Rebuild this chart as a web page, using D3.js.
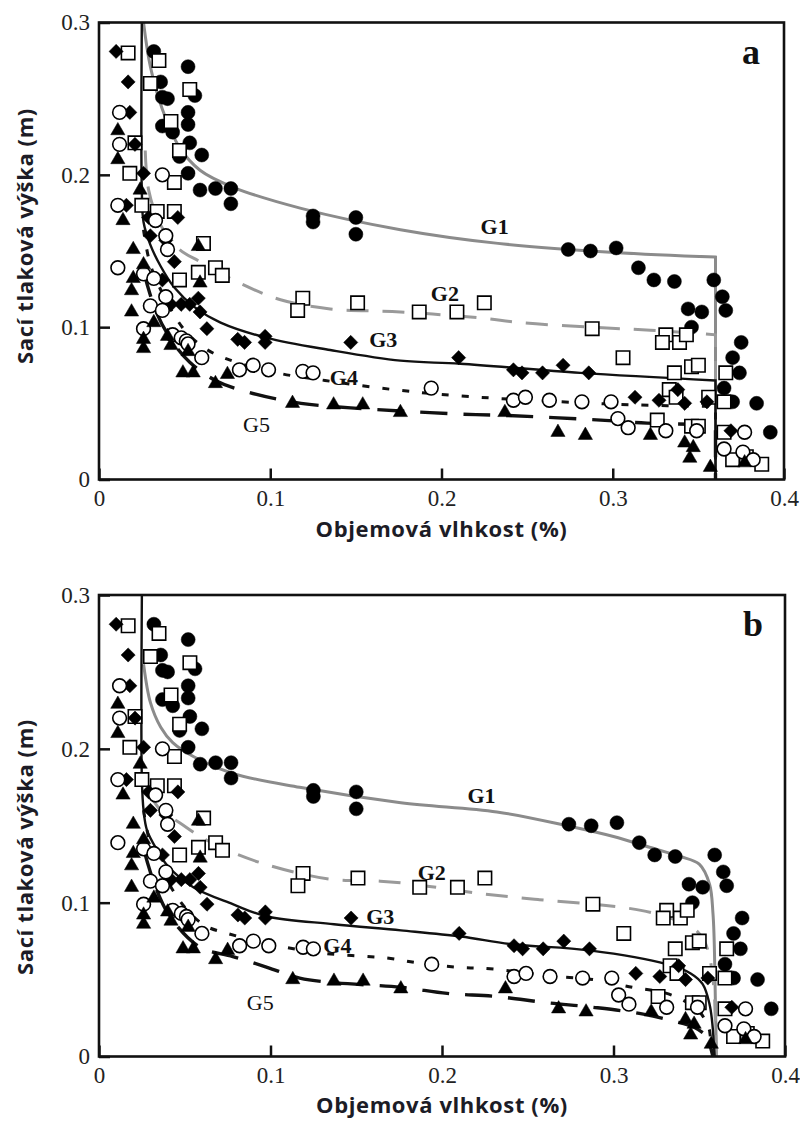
<!DOCTYPE html>
<html>
<head>
<meta charset="utf-8">
<script src="https://cdn.jsdelivr.net/npm/d3@7"></script>
<style>
  body { margin: 0; background: #fff; }
  svg { display: block; }
  .tick text { font-family: "Liberation Serif", "Times New Roman", serif; font-size: 23px; fill: #222; }
  .axis-title { font-family: "Open Sans", sans-serif; font-weight: 700; font-size: 22px; letter-spacing: 0.6px; fill: #1c1c26; }
  .curve-label { font-family: "Liberation Serif", serif; font-weight: 700; font-size: 22px; fill: #111; }
  .panel-letter { font-family: "Liberation Serif", serif; font-weight: 700; font-size: 36px; fill: #111; }
</style>
</head>
<body>
<svg width="800" height="1122"></svg>
<script>
// measured points [volumetric moisture, suction head]
const g1Points = [[0.032,0.281],[0.052,0.271],[0.036,0.261],[0.037,0.251],[0.040,0.250],[0.056,0.252],
  [0.052,0.241],[0.052,0.233],[0.037,0.232],[0.043,0.228],[0.053,0.221],[0.047,0.212],[0.060,0.213],
  [0.052,0.201],[0.059,0.190],[0.068,0.191],[0.077,0.191],[0.077,0.181],[0.125,0.173],[0.125,0.169],
  [0.150,0.172],[0.150,0.161],[0.274,0.151],[0.287,0.150],[0.302,0.152],[0.315,0.139],[0.324,0.131],
  [0.336,0.130],[0.359,0.131],[0.364,0.120],[0.366,0.111],[0.344,0.112],[0.352,0.110],[0.346,0.100],
  [0.375,0.090],[0.370,0.080],[0.374,0.070],[0.365,0.060],[0.370,0.051],[0.384,0.050],[0.392,0.031]];
const g2Points = [[0.017,0.280],[0.035,0.275],[0.030,0.260],[0.053,0.256],[0.042,0.235],[0.021,0.221],
  [0.047,0.216],[0.018,0.201],[0.044,0.195],[0.025,0.180],[0.034,0.176],[0.044,0.176],[0.061,0.155],
  [0.058,0.136],[0.068,0.139],[0.072,0.134],[0.047,0.131],[0.119,0.119],[0.116,0.111],[0.151,0.116],
  [0.187,0.110],[0.209,0.110],[0.225,0.116],[0.288,0.099],[0.331,0.095],[0.329,0.090],[0.339,0.090],
  [0.343,0.095],[0.306,0.080],[0.336,0.070],[0.346,0.074],[0.350,0.075],[0.366,0.070],[0.333,0.059],
  [0.337,0.054],[0.356,0.054],[0.365,0.051],[0.326,0.039],[0.346,0.035],[0.350,0.035],[0.365,0.031],
  [0.370,0.013],[0.378,0.015],[0.387,0.010]];
const g3Points = [[0.010,0.281],[0.017,0.261],[0.018,0.241],[0.021,0.220],[0.026,0.201],[0.016,0.180],
  [0.029,0.172],[0.046,0.172],[0.030,0.160],[0.039,0.157],[0.044,0.143],[0.037,0.131],[0.042,0.115],
  [0.048,0.115],[0.053,0.115],[0.058,0.119],[0.059,0.110],[0.063,0.099],[0.081,0.092],[0.085,0.090],
  [0.097,0.094],[0.097,0.090],[0.147,0.090],[0.210,0.080],[0.242,0.072],[0.247,0.070],[0.259,0.070],
  [0.271,0.075],[0.286,0.070],[0.313,0.054],[0.327,0.052],[0.338,0.059],[0.342,0.050],[0.355,0.051],
  [0.369,0.032]];
const g4Points = [[0.012,0.241],[0.012,0.220],[0.011,0.180],[0.037,0.200],[0.033,0.170],[0.039,0.160],
  [0.040,0.151],[0.011,0.139],[0.026,0.135],[0.032,0.132],[0.039,0.120],[0.030,0.114],[0.037,0.111],
  [0.026,0.099],[0.043,0.095],[0.048,0.093],[0.051,0.091],[0.052,0.089],[0.060,0.080],[0.082,0.072],
  [0.090,0.075],[0.099,0.072],[0.119,0.071],[0.125,0.070],[0.194,0.060],[0.242,0.052],[0.249,0.054],
  [0.263,0.052],[0.282,0.051],[0.299,0.051],[0.303,0.040],[0.309,0.034],[0.331,0.032],[0.349,0.032],
  [0.377,0.031],[0.365,0.020],[0.376,0.018],[0.382,0.013]];
const g5Points = [[0.011,0.229],[0.011,0.210],[0.024,0.190],[0.014,0.170],[0.020,0.151],[0.026,0.141],
  [0.020,0.132],[0.019,0.124],[0.019,0.110],[0.032,0.103],[0.026,0.092],[0.026,0.086],[0.040,0.094],
  [0.042,0.088],[0.052,0.084],[0.049,0.070],[0.055,0.070],[0.068,0.063],[0.075,0.069],[0.113,0.050],
  [0.137,0.049],[0.154,0.049],[0.176,0.044],[0.237,0.044],[0.268,0.031],[0.284,0.029],[0.322,0.029],
  [0.342,0.024],[0.347,0.021],[0.345,0.014],[0.357,0.008],[0.377,0.011],[0.058,0.153],[0.059,0.129]];

// fitted retention curves, panel a
const fitA1 = [[0.026,0.300],[0.030,0.271],[0.037,0.243],[0.047,0.218],[0.059,0.203],[0.078,0.192],
  [0.118,0.178],[0.176,0.164],[0.233,0.155],[0.301,0.149],[0.360,0.146],[0.360,0]];
const fitA2 = [[0.027,0.216],[0.029,0.190],[0.036,0.167],[0.047,0.151],[0.059,0.143],[0.082,0.129],
  [0.106,0.118],[0.135,0.112],[0.176,0.110],[0.223,0.106],[0.246,0.103],[0.287,0.100],[0.322,0.098],
  [0.360,0.095],[0.360,0]];
const fitA3 = [[0.025,0.300],[0.025,0.190],[0.026,0.169],[0.030,0.154],[0.036,0.140],[0.044,0.126],
  [0.056,0.113],[0.071,0.103],[0.098,0.093],[0.135,0.085],[0.176,0.078],[0.211,0.076],[0.281,0.070],
  [0.360,0.065],[0.360,0]];
const fitA4 = [[0.026,0.164],[0.030,0.141],[0.039,0.118],[0.050,0.098],[0.062,0.086],[0.075,0.079],
  [0.104,0.070],[0.132,0.065],[0.172,0.059],[0.209,0.055],[0.270,0.051],[0.312,0.049],[0.360,0.048],
  [0.360,0]];
const fitA5 = [[0.026,0.137],[0.033,0.111],[0.042,0.092],[0.053,0.077],[0.068,0.065],[0.088,0.057],
  [0.118,0.050],[0.147,0.047],[0.176,0.045],[0.209,0.043],[0.239,0.042],[0.293,0.039],[0.320,0.037],
  [0.360,0.036],[0.360,0]];

// fitted retention curves, panel b
const fitB1 = [[0.026,0.255],[0.030,0.230],[0.036,0.214],[0.043,0.204],[0.055,0.195],[0.078,0.184],
  [0.117,0.175],[0.176,0.165],[0.232,0.159],[0.273,0.150],[0.300,0.143],[0.321,0.136],[0.339,0.130],
  [0.350,0.125],[0.356,0.112],[0.358,0.093],[0.359,0.061],[0.360,0]];
const fitB2 = [[0.030,0.170],[0.036,0.160],[0.047,0.152],[0.059,0.143],[0.075,0.134],[0.094,0.126],
  [0.117,0.119],[0.137,0.115],[0.164,0.114],[0.183,0.112],[0.222,0.106],[0.256,0.102],[0.288,0.099],
  [0.316,0.095],[0.333,0.090],[0.346,0.084],[0.353,0.075],[0.357,0.059],[0.359,0.037],[0.360,0]];
const fitB3 = [[0.025,0.300],[0.025,0.180],[0.026,0.160],[0.028,0.147],[0.034,0.134],[0.040,0.124],
  [0.055,0.110],[0.078,0.099],[0.098,0.091],[0.137,0.086],[0.176,0.082],[0.211,0.078],[0.241,0.073],
  [0.286,0.069],[0.331,0.060],[0.345,0.054],[0.352,0.047],[0.356,0.034],[0.358,0.017],[0.359,0]];
const fitB4 = [[0.026,0.160],[0.030,0.138],[0.039,0.116],[0.050,0.097],[0.062,0.085],[0.075,0.080],
  [0.104,0.072],[0.132,0.067],[0.168,0.064],[0.185,0.061],[0.209,0.058],[0.228,0.057],[0.267,0.052],
  [0.288,0.050],[0.311,0.045],[0.331,0.041],[0.343,0.035],[0.351,0.028],[0.356,0.017],[0.358,0]];
const fitB5 = [[0.026,0.135],[0.033,0.110],[0.042,0.090],[0.059,0.071],[0.078,0.065],[0.098,0.058],
  [0.117,0.051],[0.137,0.048],[0.176,0.045],[0.203,0.041],[0.232,0.039],[0.261,0.035],[0.288,0.032],
  [0.315,0.028],[0.335,0.023],[0.347,0.019],[0.355,0.013],[0.358,0]];

const thetaTicks = [0, 0.1, 0.2, 0.3, 0.4];
const headTicks = [0, 0.1, 0.2, 0.3];
const groupNames = ["G1", "G2", "G3", "G4", "G5"];

const lineStyles = [
  {stroke: "#8b8b8b", width: 3, dash: null},
  {stroke: "#9a9a9a", width: 3, dash: "22,14"},
  {stroke: "#111", width: 2.4, dash: null},
  {stroke: "#111", width: 3, dash: "7,13"},
  {stroke: "#111", width: 3.4, dash: "27,16"}
];

const panels = [
  {letter: "a", left: 99, top: 22.5, width: 685, height: 457, titleY: 537, yTitleMid: 236,
   curves: [fitA1, fitA2, fitA3, fitA4, fitA5],
   labels: [[0.231,0.166],[0.202,0.122],[0.166,0.092],[0.143,0.067],[0.092,0.036]]},
  {letter: "b", left: 99, top: 595, width: 686, height: 461.5, titleY: 1113, yTitleMid: 847,
   curves: [fitB1, fitB2, fitB3, fitB4, fitB5],
   labels: [[0.223,0.170],[0.194,0.120],[0.164,0.091],[0.139,0.072],[0.094,0.035]]}
];

const svg = d3.select("svg");

function symbolFor(i) {
  const sym = d3.symbol();
  if (i === 0) return sym.type(d3.symbolCircle).size(154)();
  if (i === 1) return sym.type(d3.symbolSquare).size(180)();
  if (i === 2) return sym.type(d3.symbolSquare).size(100)();
  if (i === 3) return sym.type(d3.symbolCircle).size(148)();
  return sym.type(d3.symbolTriangle).size(88)();
}

function renderPanel(p) {
  const x = d3.scaleLinear().domain([0, 0.4]).range([0, p.width]);
  const y = d3.scaleLinear().domain([0, 0.3]).range([p.height, 0]);
  const g = svg.append("g").attr("transform", "translate(" + p.left + "," + p.top + ")");

  const xAxis = d3.axisBottom(x).tickValues(thetaTicks).tickSizeInner(-11).tickSizeOuter(0)
                  .tickPadding(10).tickFormat(d3.format("~g"));
  const yAxis = d3.axisLeft(y).tickValues(headTicks).tickSizeInner(-11).tickSizeOuter(0)
                  .tickPadding(9).tickFormat(d3.format("~g"));

  g.append("g").attr("transform", "translate(0," + p.height + ")").call(xAxis)
   .call(a => { a.select(".domain").remove(); a.selectAll(".tick line").attr("stroke", "#111").attr("stroke-width", 2.5); });
  g.append("g").call(yAxis)
   .call(a => { a.select(".domain").remove(); a.selectAll(".tick line").attr("stroke", "#111").attr("stroke-width", 2.5); });

  // fitted curves: smooth part, then straight drop at saturation
  const line = d3.line().x(d => x(d[0])).y(d => y(d[1])).curve(d3.curveCatmullRom.alpha(0.5));
  p.curves.forEach((c, i) => {
    const last = c[c.length - 1];
    const st = lineStyles[i];
    g.append("path")
     .attr("d", line(c.slice(0, -1)) + "L" + x(last[0]) + "," + y(last[1]))
     .attr("fill", "none")
     .attr("stroke", st.stroke)
     .attr("stroke-width", st.width)
     .attr("stroke-dasharray", st.dash);
  });

  // measured data
  const series = [g1Points, g2Points, g3Points, g4Points, g5Points];
  series.forEach((pts, i) => {
    const open = i === 1 || i === 3;
    g.append("g").selectAll("path").data(pts).join("path")
     .attr("d", symbolFor(i))
     .attr("transform", d => "translate(" + x(d[0]) + "," + y(d[1]) + ")" + (i === 2 ? " rotate(45)" : ""))
     .attr("fill", open ? "#fff" : "#000")
     .attr("stroke", "#000")
     .attr("stroke-width", open ? 1.6 : 0.5);
  });

  g.selectAll(".curve-label").data(p.labels).join("text")
   .attr("class", "curve-label")
   .attr("x", d => x(d[0])).attr("y", d => y(d[1]))
   .attr("dy", "0.35em").attr("text-anchor", "middle")
   .style("font-weight", (d, i) => i === 4 ? 400 : 700)
   .text((d, i) => groupNames[i]);

  g.append("text").attr("class", "panel-letter")
   .attr("x", p.width - 42).attr("y", 41)
   .text(p.letter);

  // frame
  g.append("rect").attr("width", p.width).attr("height", p.height)
   .attr("fill", "none").attr("stroke", "#111").attr("stroke-width", 2.6);

  svg.append("text").attr("class", "axis-title")
     .attr("x", p.left + p.width / 2).attr("y", p.titleY)
     .attr("text-anchor", "middle")
     .text("Objemová vlhkost (%)");
  svg.append("text").attr("class", "axis-title")
     .attr("transform", "translate(33," + p.yTitleMid + ") rotate(-90)")
     .attr("text-anchor", "middle")
     .text("Sací tlaková výška (m)");
}

panels.forEach(renderPanel);
</script>
</body>
</html>
